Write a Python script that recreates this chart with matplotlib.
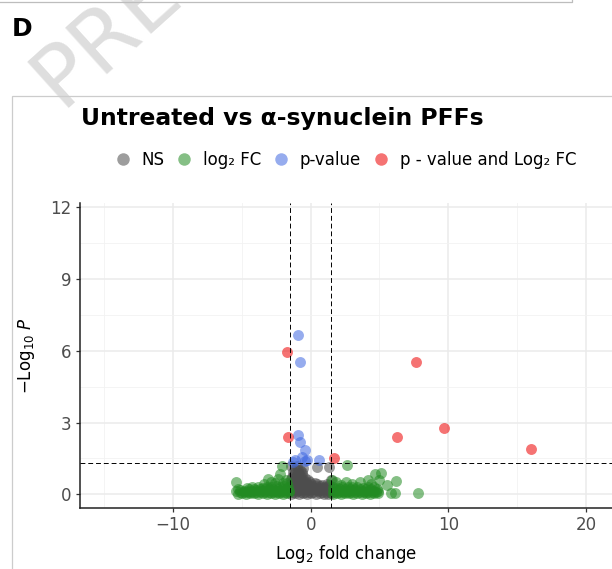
import numpy as np
import matplotlib
matplotlib.use("Agg")
import matplotlib.pyplot as plt
from matplotlib.lines import Line2D
from matplotlib.patches import Rectangle

# ======================
# Data
# ======================
title = "Untreated vs α-synuclein PFFs"
fc_cutoff = 1.5
p_cutoff = 0.05

# not significant (grey)
ns_x = [-1.45, -1.15, -0.85, -0.55, -0.25, 0.05, 0.35, 0.65, 0.95, 1.25, 1.45,
        -1.3, -1.0, -0.7, -0.4, -0.1, 0.2, 0.5, 0.8, 1.1, 1.4,
        -1.35, -1.05, -0.75, -0.45, -0.15, 0.15, 0.45, 0.75, 1.05, 1.35,
        -1.2, -0.9, -0.6, -0.3, 0.0, 0.3, 0.6, 0.9, 1.2,
        -1.4, -1.1, -0.8, -0.5, -0.2, 0.1, 0.4, 0.7, 1.0, 1.3,
        -1.45, -1.15, -0.85, -0.55, -0.25, 0.05, 0.45, 0.85, 1.2,
        -1.25, -0.95, -0.65, -0.35, -0.05, 0.3, 1.45,
        -1.45, -1.15, -0.85, -0.55, -0.2,
        -1.35, -1.05, -0.75, -0.45,
        -1.2, -0.9, -0.6,
        -1.3, -0.95, -0.6,
        -1.15, -0.75,
        -1.4, -1.0, -0.55, 0.46, 1.33]
ns_y = [0.03, 0.05, 0.02, 0.06, 0.01, 0.04, 0.02, 0.05, 0.03, 0.02, 0.06,
        0.10, 0.12, 0.09, 0.11, 0.10, 0.08, 0.12, 0.10, 0.09, 0.11,
        0.18, 0.22, 0.20, 0.24, 0.19, 0.21, 0.17, 0.20, 0.22, 0.18,
        0.28, 0.30, 0.29, 0.31, 0.27, 0.28, 0.26, 0.27, 0.29,
        0.36, 0.40, 0.42, 0.38, 0.40, 0.35, 0.37, 0.33, 0.30, 0.38,
        0.46, 0.48, 0.50, 0.47, 0.45, 0.43, 0.42, 0.40, 0.44,
        0.55, 0.60, 0.58, 0.52, 0.50, 0.47, 0.58,
        0.65, 0.68, 0.70, 0.66, 0.62,
        0.72, 0.78, 0.80, 0.70,
        0.85, 0.88, 0.84,
        0.95, 1.00, 0.92,
        1.05, 1.02,
        1.17, 1.20, 1.10, 1.14, 1.14]

# log2 FC only (green)
fc_x = [-5.3, -5.0, -4.7, -4.4, -4.1, -3.8, -3.5, -3.2, -2.9, -2.6, -2.3, -2.0, -1.7,
        -5.15, -4.85, -4.55, -4.25, -3.95, -3.65, -3.35, -3.05, -2.75, -2.45, -2.15, -1.85, -1.6,
        -5.45, -5.15, -4.85, -4.55, -4.25, -3.95, -3.65, -3.35, -3.05, -2.75, -2.45, -2.15, -1.85, -1.6,
        -4.5, -4.1, -3.7, -3.35, -3.05, -2.75, -2.4, -2.1, -1.8,
        -4.3, -3.85, -3.5, -3.2, -2.9, -2.55, -2.25, -1.95, -1.65,
        -3.4, -2.6, -2.0, -1.75,
        -5.4, -3.1, -2.86, -2.25, -2.1, -2.4, -1.8, -4.6, -5.25,
        1.6, 1.9, 2.2, 2.5, 2.8, 3.1, 3.4, 3.7, 4.0, 4.3, 4.6, 4.9,
        1.75, 2.05, 2.35, 2.65, 2.95, 3.25, 3.55, 3.85, 4.15, 4.45, 4.75,
        1.6, 1.9, 2.2, 2.5, 2.8, 3.1, 3.4, 3.7, 4.0, 4.3, 4.6, 4.9,
        1.75, 2.1, 2.5, 2.85, 3.2, 3.6, 4.0, 4.4, 4.8,
        1.6, 1.95, 2.3, 2.7, 3.0, 3.4, 3.8, 4.2, 4.6,
        2.64, 1.87, 2.6, 3.56, 4.17, 4.65, 5.1, 5.0, 5.57, 6.2, 5.87, 6.1, 7.8,
        4.4, 1.55, 2.2, 3.0]
fc_y = [0.03, 0.05, 0.02, 0.04, 0.06, 0.02, 0.05, 0.03, 0.04, 0.02, 0.05, 0.03, 0.04,
        0.09, 0.08, 0.10, 0.09, 0.08, 0.10, 0.09, 0.08, 0.10, 0.09, 0.08, 0.10, 0.09,
        0.15, 0.17, 0.13, 0.16, 0.14, 0.18, 0.15, 0.13, 0.17, 0.14, 0.16, 0.15, 0.18, 0.14,
        0.22, 0.23, 0.21, 0.24, 0.22, 0.23, 0.21, 0.24, 0.22,
        0.30, 0.32, 0.28, 0.31, 0.29, 0.33, 0.30, 0.34, 0.31,
        0.45, 0.47, 0.46, 0.48,
        0.52, 0.66, 0.52, 0.86, 1.17, 0.66, 0.60, 0.25, 0.22,
        0.03, 0.05, 0.02, 0.04, 0.06, 0.03, 0.05, 0.02, 0.04, 0.03, 0.05, 0.04,
        0.09, 0.10, 0.08, 0.09, 0.10, 0.08, 0.09, 0.10, 0.08, 0.09, 0.10,
        0.15, 0.17, 0.14, 0.16, 0.13, 0.18, 0.15, 0.14, 0.16, 0.17, 0.15, 0.14,
        0.22, 0.23, 0.21, 0.24, 0.22, 0.21, 0.23, 0.22, 0.24,
        0.30, 0.28, 0.31, 0.29, 0.32, 0.30, 0.28, 0.31, 0.29,
        1.23, 0.52, 0.52, 0.52, 0.58, 0.86, 0.90, 0.58, 0.38, 0.54, 0.04, 0.04, 0.04,
        0.45, 0.60, 0.40, 0.45]

# p-value only (blue)
p_x = [-0.95, -0.80, -0.90, -0.78, -0.41, -1.14, -0.66, -0.41, 0.63, -1.28, -0.30]
p_y = [6.65, 5.52, 2.47, 2.19, 1.87, 1.45, 1.56, 1.38, 1.42, 1.35, 1.42]

# p-value and log2 FC (red)
both_x = [-1.75, -1.65, 1.67, 6.25, 7.66, 9.7, 16.0]
both_y = [5.94, 2.40, 1.50, 2.40, 5.52, 2.76, 1.90]

groups = [
    ("NS", ns_x, ns_y, "#4D4D4D"),
    ("log₂ FC", fc_x, fc_y, "#228B22"),
    ("p-value", p_x, p_y, "#4169E1"),
    ("p - value and Log₂ FC", both_x, both_y, "#EE0000"),
]

# ======================
# Figure
# ======================
W, H = 612, 569
fig = plt.figure(figsize=(W / 100, H / 100), dpi=100)
plt.rcParams["mathtext.fontset"] = "dejavusans"

# page decorations (screenshot frame, watermark, panel letter)
fig.text(60 / W, 1 - 108 / H, "PREPRINT", rotation=42, rotation_mode="anchor",
         ha="left", va="baseline", fontsize=62, color="#dedede", zorder=0)
fig.add_artist(Line2D([0, 572 / W, 572 / W], [1 - 2 / H, 1 - 2 / H, 1.0],
                      color="#bdbdbd", lw=0.9, transform=fig.transFigure))
fig.add_artist(Rectangle((12 / W, -0.01), 1.0, 1 - 96 / H + 0.01,
                         transform=fig.transFigure, fill=False,
                         edgecolor="#cccccc", lw=0.9, zorder=1))
fig.text(12 / W, 1 - 36 / H, "D", fontsize=18, fontweight="bold",
         ha="left", va="baseline")

ax = fig.add_axes([80 / W, (H - 508) / H, (W - 80) / W, (508 - 202.7) / H])

for label, xs, ys, color in groups:
    ax.scatter(xs, ys, s=62, color=color, alpha=0.55, linewidths=0, zorder=3)

ax.axvline(-fc_cutoff, color="black", lw=0.7, ls=(0, (5, 3)), zorder=4)
ax.axvline(fc_cutoff, color="black", lw=0.7, ls=(0, (5, 3)), zorder=4)
ax.axhline(-np.log10(p_cutoff), color="black", lw=0.7, ls=(0, (5, 3)), zorder=4)

ax.set_xlim(-16.77, 21.9)
ax.set_ylim(-0.57, 12.19)
ax.set_xticks([-10, 0, 10, 20])
ax.set_xticks([-15, -5, 5, 15], minor=True)
ax.set_yticks([0, 3, 6, 9, 12])
ax.set_yticks([1.5, 4.5, 7.5, 10.5], minor=True)
ax.grid(True, which="major", color="#ebebeb", lw=1.1, zorder=0)
ax.grid(True, which="minor", color="#f2f2f2", lw=0.6, zorder=0)
ax.set_axisbelow(True)

for side in ["top", "right"]:
    ax.spines[side].set_visible(False)
for side in ["left", "bottom"]:
    ax.spines[side].set_color("#222222")
    ax.spines[side].set_linewidth(1.1)
ax.tick_params(which="major", direction="out", length=3, width=0.9,
               color="#333333", labelsize=12, labelcolor="#4D4D4D", pad=3)
ax.tick_params(which="minor", length=0)

ax.set_xlabel("Log$_{2}$ fold change", fontsize=12, labelpad=6)
ax.set_ylabel(r"$-$Log$_{10}$ $\it{P}$", fontsize=12, labelpad=10)

fig.text(81 / W, 1 - 125 / H, title, fontsize=16.9, fontweight="bold",
         ha="left", va="baseline")

handles = [Line2D([], [], ls="none", marker="o", markersize=9, color=c,
                  alpha=0.55, markeredgewidth=0, label=lab)
           for lab, _, _, c in groups]
fig.legend(handles=handles, loc="center", bbox_to_anchor=(346 / W, 1 - 160 / H),
           ncol=4, frameon=False, fontsize=12, handlelength=0.8,
           handletextpad=0.7, columnspacing=0.82, borderpad=0)

fig.savefig("out.png", dpi=100)
